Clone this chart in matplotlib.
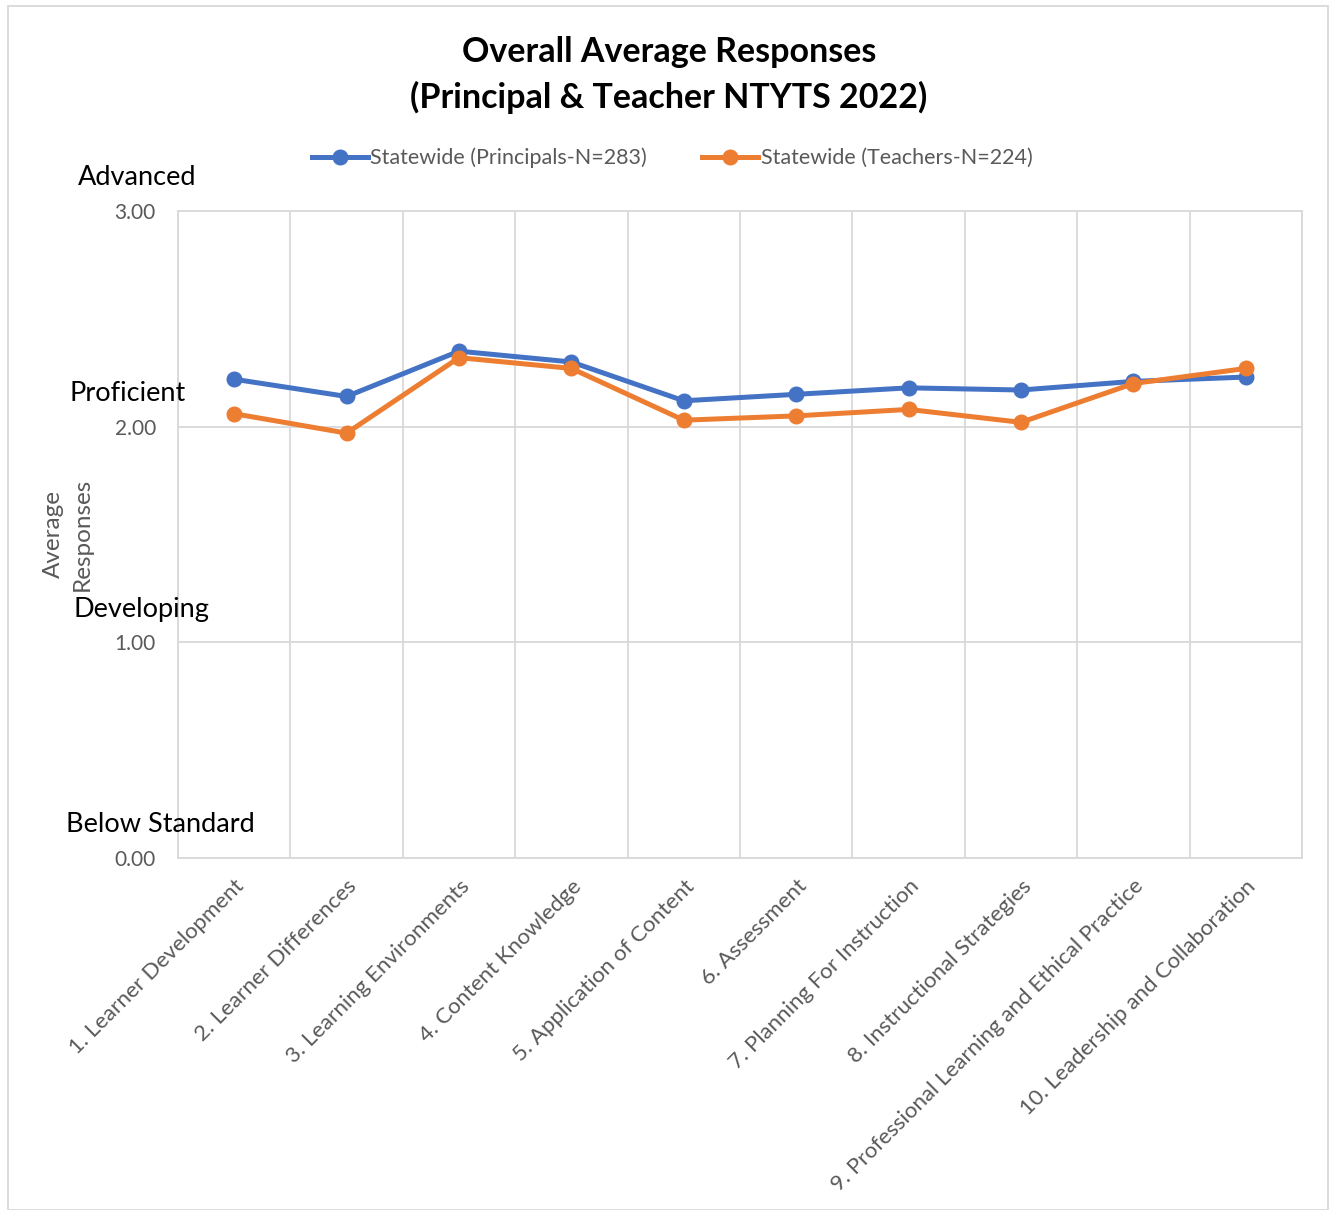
import matplotlib.pyplot as plt
from matplotlib.patches import Rectangle

# data
categories = [
    "1. Learner Development",
    "2. Learner Differences",
    "3. Learning Environments",
    "4. Content Knowledge",
    "5. Application of Content",
    "6. Assessment",
    "7. Planning For Instruction",
    "8. Instructional Strategies",
    "9. Professional Learning and Ethical Practice",
    "10. Leadership and Collaboration",
]
principals = [2.22, 2.14, 2.35, 2.30, 2.12, 2.15, 2.18, 2.17, 2.21, 2.23]
teachers = [2.06, 1.97, 2.32, 2.27, 2.03, 2.05, 2.08, 2.02, 2.20, 2.27]
principals_label = "Statewide (Principals-N=283)"
teachers_label = "Statewide (Teachers-N=224)"
yticks = [0, 1, 2, 3]
levels = ["Below Standard", "Developing", "Proficient", "Advanced"]

plt.rcParams["font.family"] = ["Lato", "DejaVu Sans"]

W, H = 1336, 1210
fig = plt.figure(figsize=(W / 100, H / 100), dpi=100)
ax = fig.add_axes([178 / W, 1 - 858 / H, (1302 - 178) / W, (858 - 211) / H])

grid_c = "#d9d9d9"
text_c = "#595959"
x = list(range(len(categories)))

ax.plot(x, principals, color="#4472C4", lw=3.6, marker="o", ms=10.5,
        label=principals_label, zorder=3)
ax.plot(x, teachers, color="#ED7D31", lw=3.6, marker="o", ms=10.5,
        label=teachers_label, zorder=3)

ax.set_xlim(-0.5, len(categories) - 0.5)
ax.set_ylim(0, 3)
ax.set_yticks(yticks)
ax.set_yticklabels([f"{v:.2f}" for v in yticks], color=text_c, fontsize=15)
ax.set_xticks(x)
ax.set_xticklabels(categories, rotation=45, ha="right", va="top",
                   rotation_mode="anchor", fontsize=16, color=text_c)
ax.set_xticks([i - 0.5 for i in range(len(categories) + 1)], minor=True)
ax.tick_params(axis="both", which="both", length=0)
ax.tick_params(axis="x", which="major", pad=13)
ax.tick_params(axis="y", pad=16)
ax.grid(axis="y", color=grid_c, lw=1.3)
ax.grid(axis="x", which="minor", color=grid_c, lw=1.3)
for s in ax.spines.values():
    s.set_color(grid_c)
    s.set_linewidth(1.3)

ax.set_ylabel("Average\nResponses", color=text_c, fontsize=17.5, labelpad=16,
              linespacing=1.45)

# level names over the gridlines
for name, v, xc in zip(levels, yticks, [160, 141, 128, 137]):
    y_px = 858 - v * 215.7 - 33
    fig.text(xc / W, 1 - y_px / H, name, ha="center", va="center",
             fontsize=19.5, color="black")

fig.text(669 / W, 1 - 75 / H,
         "Overall Average Responses\n(Principal & Teacher NTYTS 2022)",
         ha="center", va="center", fontsize=24.5, fontweight="bold",
         linespacing=1.45)

fig.legend(loc="center", bbox_to_anchor=(672 / W, 1 - 158 / H), ncol=2,
           frameon=False, fontsize=15.5, labelcolor=text_c, handlelength=2.6,
           handletextpad=0.1, columnspacing=2.6)

fig.patches.append(Rectangle((8 / W, 0), (1328 - 8) / W, 1 - 6 / H,
                             transform=fig.transFigure, fill=False,
                             edgecolor=grid_c, lw=1.3))

fig.savefig("out.png", dpi=100)
